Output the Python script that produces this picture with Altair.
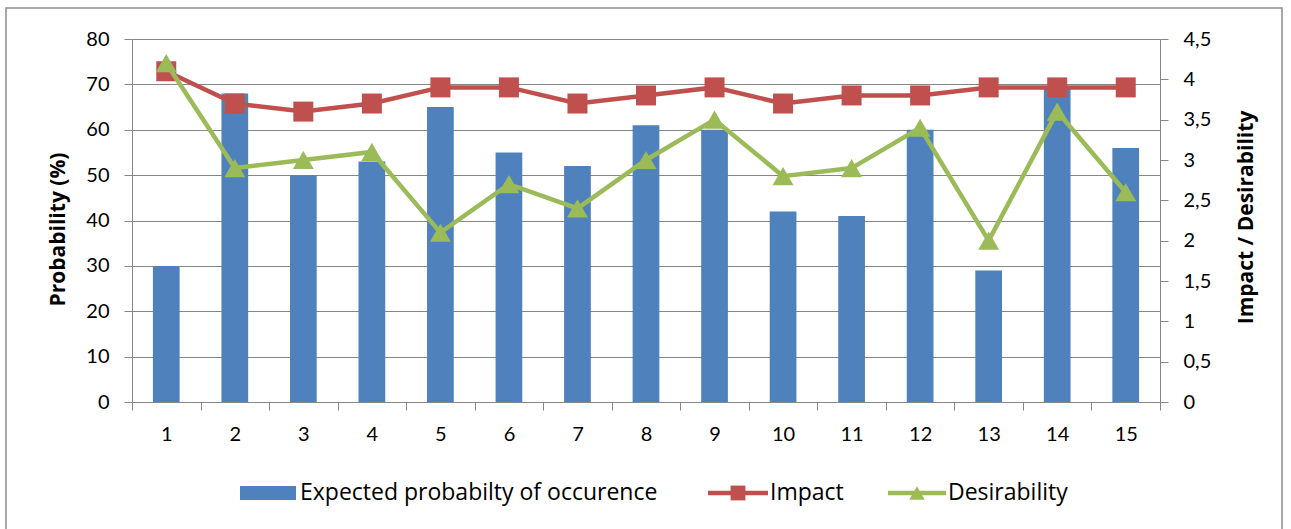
import altair as alt
import pandas as pd

# Risk items and their scores
items = list(range(1, 16))
probability = [30, 68, 50, 53, 65, 55, 52, 61, 60, 42, 41, 60, 29, 69, 56]
impact = [4.1, 3.7, 3.6, 3.7, 3.9, 3.9, 3.7, 3.8, 3.9, 3.7, 3.8, 3.8, 3.9, 3.9, 3.9]
desirability = [4.2, 2.9, 3.0, 3.1, 2.1, 2.7, 2.4, 3.0, 3.5, 2.8, 2.9, 3.4, 2.0, 3.6, 2.6]

series_names = ["Expected probabilty of occurence", "Impact", "Desirability"]
series_colors = ["#4F81BD", "#C0504D", "#9BBB59"]

FONT = "Lato"
TEXT_FONT = "Open Sans"
GRID = "#868686"
W, H = 1028, 363

bars_df = pd.DataFrame({"item": items, "probability": probability})
impact_df = pd.DataFrame({"item": items, "score": impact, "series": series_names[1]})
desir_df = pd.DataFrame({"item": items, "score": desirability, "series": series_names[2]})
legend_df = pd.DataFrame({"series": series_names})

x_enc = alt.X(
    "item:O",
    scale=alt.Scale(paddingInner=0, paddingOuter=0),
    axis=alt.Axis(
        title=None, labelAngle=0, tickBand="extent", tickSize=8,
        domainColor=GRID, tickColor=GRID, labelFontSize=20, labelPadding=14,
        labelColor="#000000", labelFont=FONT,
    ),
)

bars = alt.Chart(bars_df).mark_bar(
    color=series_colors[0], width=alt.RelativeBandSize(0.39)
).encode(
    x=x_enc,
    y=alt.Y(
        "probability:Q",
        scale=alt.Scale(domain=[0, 80], nice=False),
        axis=alt.Axis(
            values=list(range(0, 81, 10)), grid=True, gridColor=GRID, gridOpacity=1,
            domainColor=GRID, tickColor=GRID, tickSize=8, labelFontSize=20,
            labelPadding=15, labelColor="#000000", labelFont=FONT,
            title="Probability (%)", titleFont=TEXT_FONT, titleFontSize=21,
            titleFontWeight="bold", titleColor="#000000", titleX=-74, titleY=190,
            titleBaseline="middle", titleAngle=270,
        ),
    ),
)

y_right = alt.Y(
    "score:Q",
    scale=alt.Scale(domain=[0, 4.5], nice=False),
    axis=alt.Axis(
        orient="right", values=[i * 0.5 for i in range(10)], grid=False,
        domainColor=GRID, tickColor=GRID, tickSize=8, labelFontSize=20,
        labelPadding=15, labelColor="#000000", labelFont=FONT,
        labelExpr="replace(toString(datum.value), '.', ',')",
        title="Impact / Desirability", titleFont=TEXT_FONT, titleFontSize=21,
        titleFontWeight="bold", titleColor="#000000", titleX=86, titleY=178,
        titleBaseline="middle", titleAngle=270,
    ),
)

impact_line = alt.Chart(impact_df).mark_line(
    color=series_colors[1], strokeWidth=4.5
).encode(x="item:O", y=y_right)
impact_pts = alt.Chart(impact_df).mark_point(
    shape="square", filled=True, size=400, opacity=1, color=series_colors[1]
).encode(x="item:O", y=y_right)
desir_line = alt.Chart(desir_df).mark_line(
    color=series_colors[2], strokeWidth=4.5
).encode(x="item:O", y=y_right)
desir_pts = alt.Chart(desir_df).mark_point(
    shape="triangle-up", filled=True, size=440, opacity=1, color=series_colors[2]
).encode(x="item:O", y=y_right)

scores = alt.layer(impact_line, impact_pts, desir_line, desir_pts)

# Legend row under the plot
LY = 454
leg_base = alt.Chart(legend_df)
leg_rect = leg_base.transform_filter(alt.datum.series == series_names[0]).mark_rect(
    color=series_colors[0]
).encode(x=alt.value(108), x2=alt.value(164), y=alt.value(LY - 7), y2=alt.value(LY + 7))
leg_imp_rule = leg_base.transform_filter(alt.datum.series == series_names[1]).mark_rule(
    color=series_colors[1], strokeWidth=4.5
).encode(x=alt.value(576), x2=alt.value(636), y=alt.value(LY))
leg_imp_pt = leg_base.transform_filter(alt.datum.series == series_names[1]).mark_point(
    shape="square", filled=True, size=220, opacity=1, color=series_colors[1]
).encode(x=alt.value(606), y=alt.value(LY))
leg_des_rule = leg_base.transform_filter(alt.datum.series == series_names[2]).mark_rule(
    color=series_colors[2], strokeWidth=4.5
).encode(x=alt.value(756), x2=alt.value(814), y=alt.value(LY))
leg_des_pt = leg_base.transform_filter(alt.datum.series == series_names[2]).mark_point(
    shape="triangle-up", filled=True, size=240, opacity=1, color=series_colors[2]
).encode(x=alt.value(785), y=alt.value(LY))

def leg_text(name, xpos):
    return leg_base.transform_filter(alt.datum.series == name).mark_text(
        align="left", baseline="middle", font=TEXT_FONT, fontSize=23, color="#000000"
    ).encode(x=alt.value(xpos), y=alt.value(LY), text="series:N")

# Outer frame around the whole figure
frame = alt.Chart(pd.DataFrame({"f": [0]})).mark_rect(
    fillOpacity=0, stroke="#8c8c8c", strokeWidth=1.5
).encode(x=alt.value(-126), x2=alt.value(1150), y=alt.value(-31), y2=alt.value(500))

legend = alt.layer(
    leg_rect, leg_text(series_names[0], 168),
    leg_imp_rule, leg_imp_pt, leg_text(series_names[1], 638),
    leg_des_rule, leg_des_pt, leg_text(series_names[2], 816),
    frame,
)

chart = alt.layer(bars, scores, legend).resolve_scale(y="independent").properties(
    width=W, height=H,
    autosize=alt.AutoSizeParams(type="none"),
    padding={"left": 132, "top": 39, "right": 131, "bottom": 127},
).configure_view(stroke=None).configure(background="#ffffff")

chart.save("out.html", embed_options={"renderer": "svg", "actions": False})
